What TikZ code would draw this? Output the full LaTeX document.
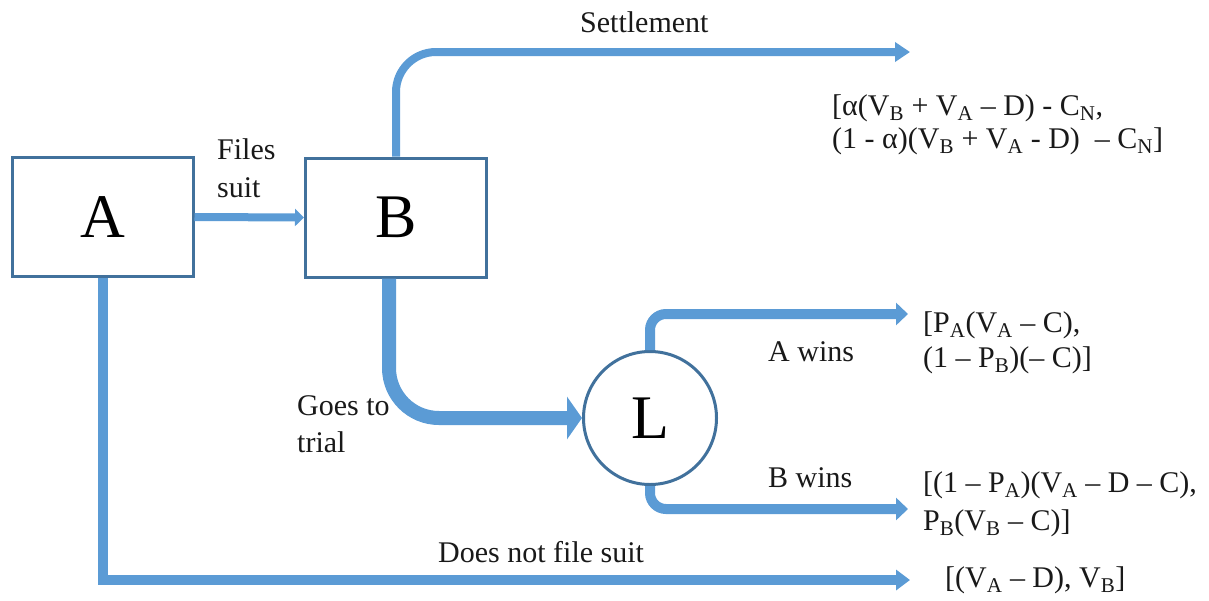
\documentclass[tikz,border=0pt]{standalone}
\usepackage{fontspec}
\setmainfont{Liberation Serif}
\usetikzlibrary{arrows.meta}
\definecolor{arrowblue}{HTML}{5B9BD5}
\definecolor{boxblue}{HTML}{41719C}
\newcommand\mylines[1]{\begin{tabular}[t]{@{}l@{}}#1\end{tabular}}
\newcommand\sbs[1]{\textsubscript{#1}}
\begin{document}
\begin{tikzpicture}[x=1pt,y=-1pt,
  box/.style={draw=boxblue, fill=white, line width=3pt, minimum width=181pt, minimum height=119pt, inner sep=0pt, font=\fontsize{62}{70}\selectfont},
  lcirc/.style={draw=boxblue, fill=white, line width=3pt, circle, minimum size=133pt, inner sep=0pt, font=\fontsize{62}{70}\selectfont},
  lbl/.style={anchor=base west, inner sep=0pt, text=black!90, font=\fontsize{30}{36}\selectfont},
  flow/.style={draw=arrowblue}
]
\useasboundingbox (0,0) rectangle (1209,600);

% nodes
\node[box] (A) at (102.5,217) {A};
\node[box] (B) at (396,217.5) {B};
\node[lcirc] (L) at (650,418) {L};

% free ends
\coordinate (sEnd) at (910,52);
\coordinate (awEnd) at (908,314);
\coordinate (bwEnd) at (908,509);
\coordinate (dnEnd) at (910,580);

% connectors
\draw[flow, line width=8pt, -{Triangle[length=9pt,width=17pt]}] (A.east) -- (B.west);
\draw[flow, line width=8pt, rounded corners=40pt, -{Triangle[length=15pt,width=19pt]}] (B.north) |- (sEnd);
\draw[flow, line width=14pt, rounded corners=50pt, -{Triangle[length=15pt,width=42pt]}] ([xshift=-7pt]B.south) |- (L.west);
\draw[flow, line width=10pt, rounded corners=16pt, -{Triangle[length=12pt,width=22pt]}] (L.north) |- (awEnd);
\draw[flow, line width=10pt, rounded corners=16pt, -{Triangle[length=12pt,width=22pt]}] (L.south) |- (bwEnd);
\draw[flow, line width=10pt, -{Triangle[length=14pt,width=20pt]}] (A.south) |- (dnEnd);

% labels
\node[lbl] (tSettle) at (580,32) {Settlement};
\node[lbl, font=\fontsize{30}{38}\selectfont] (tFiles) at (217,159) {\mylines{Files\\suit}};
\node[lbl, font=\fontsize{30}{37}\selectfont] (tTrial) at (297,415) {\mylines{Goes to\\trial}};
\node[lbl] (tAwins) at (768,361) {A wins};
\node[lbl] (tBwins) at (768,487) {B wins};
\node[lbl] (tNot) at (438,562) {Does not file suit};

% payoffs
\node[lbl, font=\fontsize{30}{33}\selectfont] (pSettle) at (832,115)
  {\mylines{[α(V\sbs{B} + V\sbs{A} – D) - C\sbs{N},\\(1 - α)(V\sbs{B} + V\sbs{A} - D) \ – C\sbs{N}]}};
\node[lbl, font=\fontsize{30}{35}\selectfont] (pAwins) at (923,332)
  {\mylines{[P\sbs{A}(V\sbs{A} – C),\\(1 – P\sbs{B})(– C)]}};
\node[lbl, font=\fontsize{30}{38}\selectfont] (pBwins) at (923,492)
  {\mylines{[(1 – P\sbs{A})(V\sbs{A} – D – C),\\P\sbs{B}(V\sbs{B} – C)]}};
\node[lbl] (pNot) at (945,587) {[(V\sbs{A} – D), V\sbs{B}]};
\end{tikzpicture}
\end{document}
